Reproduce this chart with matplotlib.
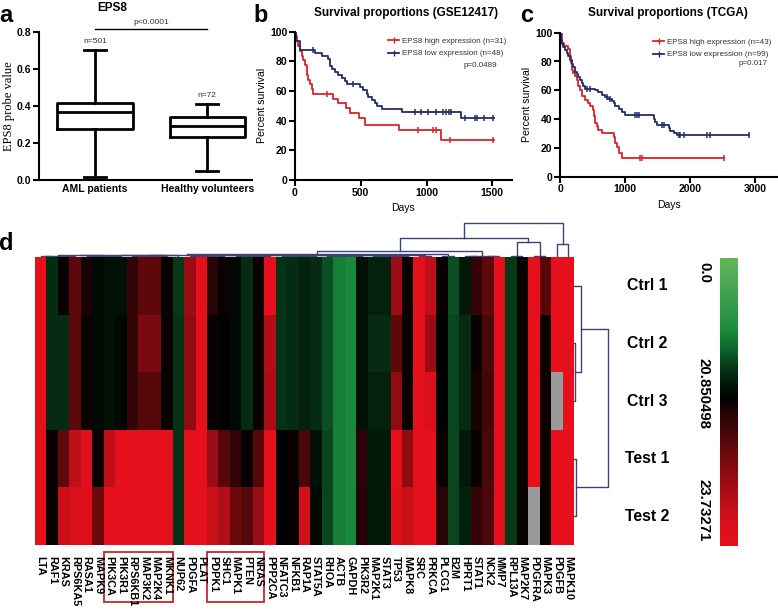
import numpy as np
import matplotlib
matplotlib.use('Agg')
import matplotlib.pyplot as plt
from matplotlib.colors import LinearSegmentedColormap
from matplotlib.patches import Rectangle
from matplotlib.lines import Line2D
import matplotlib.transforms as mtrans

plt.rcParams['font.family'] = ['Liberation Sans', 'DejaVu Sans']
plt.rcParams['font.weight'] = 'bold'
plt.rcParams['axes.linewidth'] = 1.5

## panel a data
groups = ['AML patients', 'Healthy volunteers']
box_lo = [0.015, 0.05]
box_q1 = [0.273, 0.234]
box_med = [0.369, 0.291]
box_q3 = [0.418, 0.338]
box_hi = [0.70, 0.41]
box_n = ['n=501', 'n=72']

## panel b data (GSE12417)
b_hi_t = [0, 8, 15, 25, 38, 50, 63, 76, 89, 101, 114, 127, 139, 290, 330, 390, 420, 490, 530, 790, 1113, 1510]
b_hi_s = [100, 96.8, 93.5, 90.3, 87.1, 83.9, 80.6, 77.4, 71.0, 67.7, 64.5, 61.3, 58.1, 54.8, 51.6, 48.4, 45.2, 41.9, 37.0, 33.4, 26.8, 26.8]
b_hi_cens = [240, 936, 1050, 1075, 1176, 1505]
b_lo_t = [0, 8, 38, 152, 202, 253, 266, 278, 304, 329, 354, 380, 392, 493, 519, 544, 557, 582, 607, 620, 658, 810, 1265, 1510]
b_lo_s = [100, 93.8, 87.5, 85.4, 83.3, 81.3, 77.1, 75.0, 72.9, 70.8, 68.8, 66.7, 64.6, 62.5, 60.4, 58.3, 56.3, 54.2, 52.1, 50.0, 47.9, 45.8, 41.7, 41.7]
b_lo_cens = [139, 443, 911, 961, 1012, 1075, 1126, 1151, 1169, 1184, 1290, 1366, 1384, 1435, 1505]

## panel c data (TCGA)
c_hi_t = [0, 26, 60, 128, 150, 164, 180, 205, 230, 256, 282, 308, 333, 385, 436, 462, 503, 520, 539, 564, 590, 641, 821, 846, 872, 898, 949, 2514]
c_hi_s = [100, 93.0, 90.7, 88.4, 83.7, 79.1, 74.4, 72.1, 69.8, 67.4, 62.8, 60.5, 55.8, 53.5, 51.2, 48.8, 46.5, 41.9, 37.2, 34.9, 32.6, 30.2, 27.9, 23.3, 20.9, 16.3, 12.8, 12.8]
c_hi_cens = [1231, 1257, 2514]
c_lo_t = [0, 10, 26, 51, 80, 103, 128, 154, 180, 205, 231, 256, 282, 308, 333, 359, 385, 539, 590, 641,
          693, 744, 795, 821, 846, 898, 949, 1000, 1436, 1462, 1488, 1667, 1693, 1744, 1795, 2898]
c_lo_s = [100, 95, 92, 90, 88, 86, 84, 81, 78, 76, 73, 71, 69, 67, 65, 63, 61, 60, 58.5, 57,
          55.5, 54, 52.5, 51, 49, 47, 45, 43, 40, 38, 36, 34, 32, 30.5, 29, 29]
c_lo_cens = [410, 462, 718, 770, 1154, 1180, 1206, 1565, 1590, 1821, 1847, 1898, 2257, 2308, 2898]

## panel d data
genes = ['LTA', 'RAF1', 'KRAS', 'RPS6KA5', 'RASA1', 'MAPK9', 'PIK3CA', 'PIK3R1', 'RPS6KB1', 'MAP3K2',
         'MAP2K4', 'MKNK1', 'NUP62', 'PDGFA', 'PLAT', 'PDPK1', 'SHC1', 'MAPK1', 'PTEN', 'NRAS',
         'PPP2CA', 'NFATC3', 'NFKB1', 'RAP1A', 'STAT5A', 'RHOA', 'ACTB', 'GAPDH', 'PIK3R2', 'MAP2K1',
         'STAT3', 'TP53', 'MAPK8', 'SRC', 'PRKCA', 'PLCG1', 'B2M', 'HPRT1', 'STAT1', 'NCK2',
         'MMP7', 'RPL13A', 'MAP2K7', 'PDGFRA', 'MAPK3', 'PDGFB', 'MAPK10']
samples = ['Ctrl 1', 'Ctrl 2', 'Ctrl 3', 'Test 1', 'Test 2']
nan = np.nan
ctrl1 = [1, -.2, 0, .32, .04, -.06, -.1, -.1, .14, .32, .32, 0, -.24, .56, 1, .1, 0, -.06, -.2, 0,
         1, -.22, -.2, -.16, -.2, -.3, -.46, -.5, -.1, -.16, -.16, .56, 0, 1, .72, 0, -.3, -.13, .14, .32,
         1, -.24, 0, 1, .28, 1, 1]
ctrl2 = [1, -.2, -.2, .32, 0, -.06, -.1, -.06, .14, .42, .42, 0, -.22, .5, 1, 0, -.03, -.06, -.2, 0,
         .66, -.22, -.2, -.16, -.2, -.3, -.46, -.5, -.1, -.2, -.2, .32, 0, 1, .56, -.03, -.28, -.2, 0, .24,
         1, -.24, 0, 1, 0, 1, 1]
ctrl3 = [1, -.2, -.2, .32, 0, -.06, -.1, -.06, .14, .28, .28, 0, -.22, .5, 1, 0, -.03, -.06, -.2, 0,
         .62, -.22, -.2, -.16, -.2, -.3, -.46, -.5, -.1, -.16, -.16, .5, 0, 1, .86, -.03, -.28, -.2, .04, .2,
         1, -.24, 0, 1, 0, nan, 1]
test1 = [1, 0, .32, .72, .92, 0, .72, 1, 1, 1, 1, 1, -.22, 1, 1, .56, .28, .14, 0, .28,
         1, -.03, 0, .24, -.1, -.28, -.46, -.5, .1, -.13, -.13, 1, .5, 1, 1, 0, -.28, -.13, 0, .24,
         1, -.24, 0, 1, 0, 1, 1]
test2 = [1, 0, .76, .86, .92, .36, 1, 1, 1, 1, 1, 1, -.22, 1, 1, .76, .66, .36, .28, .56,
         1, -.03, 0, .8, -.06, -.28, -.46, -.5, .08, -.13, -.13, .92, .76, 1, 1, .1, -.28, -.16, .14, .24,
         1, -.24, 0, nan, 0, 1, 1]

# column tree, nodes are [left, right, height in px]; leaves are column indices
g1 = [[[0, 1, 1], [2, 3, 1], 1.5], [[4, 5, 1], [6, 7, 1], 1.5], 2]
g2 = [[[8, 9, 1], [10, 11, 1], 1.5], 12, 2]
q15 = [[13, 14, 1], [15, 16, 1], 1.5]
q19 = [[17, 18, 1], [19, 20, 1], 1.5]
q23 = [[21, 22, 1], [23, 24, 1], 1.5]
q27 = [[25, 26, 1], [27, 28, 1], 1.5]
q31 = [[29, 30, 1], [31, 32, 1], 1.5]
grp_p2 = [q15, [q19, [q23, [q27, [q31, [33, 34, 1], 1.8], 1.9], 2.0], 2.1], 2.2]
grp_p = [[g1, g2, 2.2], grp_p2, 2.5]
grp_c = [[grp_p, [35, 36, 1.5], 3], [[37, 38, 1], [39, 40, 1], 1.5], 6.5]
grp_d = [[41, 42, 1.5], [43, 44, 1.5], 15]
col_tree = [[grp_c, grp_d, 18.5], [45, 46, 12.5], 34]
row_tree = [[0, [1, 2, 1], 7], [3, 4, 1.5], 34]

W, H = 778, 614
fig = plt.figure(figsize=(W / 100, H / 100), dpi=100)


def px(l, t, r, b):
    return [l / W, 1 - b / H, (r - l) / W, (b - t) / H]


def ftext(x, y, s, **kw):
    fig.text(x / W, 1 - y / H, s, **kw)


def style_axes(ax):
    for sp in ['top', 'right']:
        ax.spines[sp].set_visible(False)
    ax.tick_params(width=1.5, length=4, labelsize=7.5, pad=1.5)


def surv_at(t, s, tc):
    idx = np.searchsorted(t, tc, side='right') - 1
    return np.array(s)[idx]


## a: box plot
ax = fig.add_axes(px(39, 31.7, 252, 180))
stats = []
for i in range(len(groups)):
    stats.append({'whislo': box_lo[i], 'q1': box_q1[i], 'med': box_med[i],
                  'q3': box_q3[i], 'whishi': box_hi[i], 'label': groups[i]})
lp = dict(color='black', linewidth=2)
ax.bxp(stats, positions=[1, 2], widths=0.67, showfliers=False, capwidths=0.2,
       boxprops=lp, medianprops=lp, whiskerprops=lp, capprops=lp)
ax.set_xlim(0.5, 2.4)
ax.set_ylim(0, 0.8)
ax.set_yticks([0, 0.2, 0.4, 0.6, 0.8])
ax.set_yticklabels(['0.0', '0.2', '0.4', '0.6', '0.8'])
style_axes(ax)
ax.tick_params(axis='x', length=0, pad=3)
ax.set_ylabel('EPS8 probe value', family=['Liberation Serif'], fontsize=9, labelpad=1.5)
for i in range(len(groups)):
    ax.text(i + 1, box_hi[i] + 0.045, box_n[i], ha='center', va='center', fontsize=6,
            fontweight='normal', color='#333333')
ax.plot([1, 2], [0.815, 0.815], color='black', lw=1, clip_on=False)
ax.text(1.5, 0.85, 'p<0.0001', ha='center', va='center', fontsize=6, fontweight='normal',
        color='#333333', clip_on=False)
ftext(112, 8, 'EPS8', ha='center', va='center', fontsize=8.5)
ftext(6, 15, 'a', ha='center', va='center', fontsize=17)

red = '#e0202c'
blue = '#232c6e'


def km_panel(rect, xlim, xticks, t1, s1, c1, t2, s2, c2, n1, n2, pval, pxy, title, tx, letter, lx):
    ax = fig.add_axes(px(*rect))
    ax.step(t1, s1, where='post', color=red, lw=1.3)
    ax.step(t2, s2, where='post', color=blue, lw=1.3)
    ax.plot(c1, surv_at(t1, s1, c1), '|', color=red, ms=4, mew=1.1)
    ax.plot(c2, surv_at(t2, s2, c2), '|', color=blue, ms=4, mew=1.1)
    ax.set_xlim(*xlim)
    ax.set_ylim(0, 100)
    ax.set_xticks(xticks)
    ax.set_yticks([0, 20, 40, 60, 80, 100])
    style_axes(ax)
    ax.set_ylabel('Percent survival', fontsize=7.6, labelpad=2)
    ax.set_xlabel('Days', fontsize=7.5, labelpad=4)
    hs = [Line2D([0], [0], color=red, lw=1.3, marker='|', ms=4),
          Line2D([0], [0], color=blue, lw=1.3, marker='|', ms=4)]
    lg = ax.legend(hs, ['EPS8 high expression (n=%d)' % n1, 'EPS8 low expression (n=%d)' % n2],
                   loc='upper right', bbox_to_anchor=(1.0, 1.0), frameon=False,
                   prop={'size': 5.8, 'weight': 'normal'}, handlelength=1.3,
                   handletextpad=0.4, labelspacing=0.6, borderpad=0.2)
    for t in lg.get_texts():
        t.set_color('#333333')
    ax.text(pxy[0], pxy[1], pval, transform=ax.transAxes, ha='right', va='center', fontsize=5.8,
            fontweight='normal', color='#333333')
    ftext(tx, 13, title, ha='center', va='center', fontsize=8.5)
    ftext(lx, 15, letter, ha='center', va='center', fontsize=17)
    return ax


km_panel((295, 31.7, 512, 180), (0, 1650), [0, 500, 1000, 1500], b_hi_t, b_hi_s, b_hi_cens,
         b_lo_t, b_lo_s, b_lo_cens, 31, 48, 'p=0.0489', (0.93, 0.775),
         'Survival proportions (GSE12417)', 406, 'b', 261)
km_panel((560, 32.7, 777, 176.7), (0, 3330), [0, 1000, 2000, 3000], c_hi_t, c_hi_s, c_hi_cens,
         c_lo_t, c_lo_s, c_lo_cens, 43, 99, 'p=0.017', (0.958, 0.783),
         'Survival proportions (TCGA)', 668, 'c', 527)

## d: heatmap
cmap = LinearSegmentedColormap.from_list(
    'gkr', [(0, '#62b65a'), (0.15, '#3a9d4c'), (0.25, '#1a8a3c'), (0.32, '#0c622a'),
            (0.39, '#063214'), (0.44, '#021508'), (0.49, '#000000'), (0.53, '#200305'),
            (0.63, '#500709'), (0.74, '#8a0b12'), (0.84, '#b50f18'), (0.91, '#d5101a'),
            (1.0, '#e6101c')])
cmap.set_bad('#9a9a9a')
mat = np.ma.masked_invalid(np.array([ctrl1, ctrl2, ctrl3, test1, test2]))

axh = fig.add_axes(px(35, 257, 574, 545))
mesh = axh.pcolormesh(np.arange(len(genes) + 1), np.arange(len(samples) + 1), mat,
                      cmap=cmap, vmin=-1, vmax=1)
axh.set_xlim(0, len(genes))
axh.set_ylim(len(samples), 0)
axh.set_xticks(np.arange(len(genes)) + 0.5)
axh.set_xticklabels(genes, rotation=270, fontsize=7.8, ha='center', va='top')
axh.set_yticks([])
axh.tick_params(axis='x', length=0, pad=8)
for sp in axh.spines.values():
    sp.set_visible(False)

tr = mtrans.blended_transform_factory(axh.transData, axh.transAxes)
for x0, x1 in [(6, 12), (15, 20)]:
    axh.add_patch(Rectangle((x0, -0.198), x1 - x0, 0.174, transform=tr, fill=False,
                            edgecolor='#d42027', lw=1.3, clip_on=False))
tr2 = mtrans.blended_transform_factory(axh.transAxes, axh.transData)
for i, s in enumerate(samples):
    axh.text(1.135, i + 0.5, s, transform=tr2, ha='center', va='center', fontsize=11.3)

dcol = '#3d4378'


def draw_tree(ax, node, top):
    if not isinstance(node, list):
        return node + 0.5, 0.0
    xl, hl = draw_tree(ax, node[0], top)
    xr, hr = draw_tree(ax, node[1], top)
    h = node[2]
    if top:
        ax.plot([xl, xl, xr, xr], [hl, h, h, hr], color=dcol, lw=1)
    else:
        ax.plot([hl, h, h, hr], [xl, xl, xr, xr], color=dcol, lw=1)
    return (xl + xr) / 2, h


axd = fig.add_axes(px(35, 220, 574, 257))
draw_tree(axd, col_tree, True)
axd.set_xlim(0, len(genes))
axd.set_ylim(0, 37)
axd.axis('off')

axr = fig.add_axes(px(574, 257, 612, 545))
draw_tree(axr, row_tree, False)
axr.set_xlim(0, 38)
axr.set_ylim(len(samples), 0)
axr.axis('off')

cax = fig.add_axes(px(720, 258, 738, 546))
cb = fig.colorbar(mesh, cax=cax)
cb.outline.set_visible(False)
cax.invert_yaxis()
cax.set_yticks([])
ftext(704, 262, '0.0', rotation=270, ha='center', va='top', fontsize=10.8)
ftext(704, 393, '20.850498', rotation=270, ha='center', va='center', fontsize=10.8)
ftext(704, 541, '23.73271', rotation=270, ha='center', va='bottom', fontsize=10.8)
ftext(6, 243, 'd', ha='center', va='center', fontsize=17)

fig.savefig('out.png', dpi=100)
